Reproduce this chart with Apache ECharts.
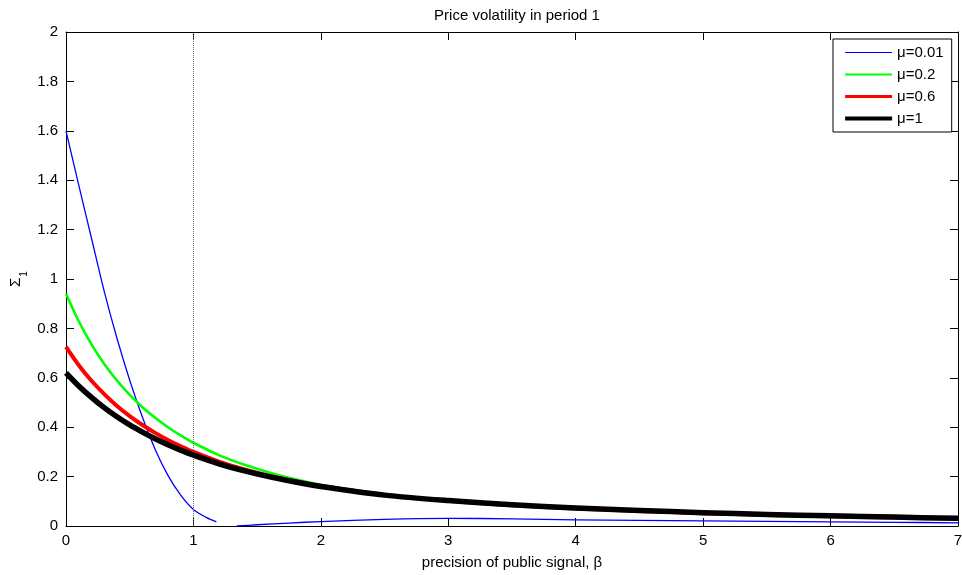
<!DOCTYPE html>
<html>
<head>
<meta charset="utf-8">
<script src="https://cdn.jsdelivr.net/npm/echarts@6/dist/echarts.min.js"></script>
<style>
html,body{margin:0;padding:0;background:#fff;}
#chart{width:962px;height:575px;}
</style>
</head>
<body>
<div id="chart"></div>
<script>
// ---- data ----
const titleText = 'Price volatility in period 1';
const xAxisName = 'precision of public signal, β';
const seriesNames = ['μ=0.01', 'μ=0.2', 'μ=0.6', 'μ=1'];
const seriesColors = ['#0000ff', '#00ff00', '#ff0000', '#000000'];

const betaGrid = [0, 0.1, 0.2, 0.3, 0.4, 0.5, 0.6, 0.7, 0.8, 0.9, 1, 1.2, 1.4, 1.6, 1.8, 2, 2.5, 3, 3.5, 4, 4.5, 5, 5.5, 6, 6.5, 7];
const sigmaMu02 = [0.94, 0.829, 0.735, 0.656, 0.589, 0.531, 0.481, 0.438, 0.400, 0.367, 0.337, 0.287, 0.248, 0.216, 0.189, 0.167, 0.127, 0.102, 0.085, 0.072, 0.062, 0.053, 0.046, 0.040, 0.035, 0.030];
const sigmaMu06 = [0.725, 0.651, 0.588, 0.534, 0.486, 0.445, 0.409, 0.377, 0.348, 0.323, 0.300, 0.261, 0.229, 0.203, 0.181, 0.162, 0.126, 0.102, 0.084, 0.071, 0.061, 0.052, 0.045, 0.039, 0.034, 0.030];
const sigmaMu1  = [0.62, 0.567, 0.521, 0.479, 0.442, 0.409, 0.380, 0.353, 0.329, 0.307, 0.287, 0.252, 0.223, 0.199, 0.178, 0.160, 0.125, 0.103, 0.086, 0.073, 0.063, 0.054, 0.047, 0.041, 0.036, 0.031];

const betaBlue = [0, 0.1, 0.2, 0.3, 0.4, 0.5, 0.6, 0.7, 0.8, 0.9, 1, 1.1, 1.18, 1.26, 1.34, 1.5, 1.75, 2, 2.5, 3, 3.5, 4, 4.5, 5, 5.5, 6, 6.5, 7];
const sigmaMu001 = [1.6, 1.38, 1.165, 0.95, 0.76, 0.59, 0.44, 0.31, 0.205, 0.125, 0.067, 0.035, 0.017, null, 0, 0.005, 0.012, 0.018, 0.027, 0.031, 0.029, 0.025, 0.023, 0.021, 0.019, 0.017, 0.015, 0.013];

const legendWidths = [1.2, 2.2, 3.2, 4.2];
const plotWidths = [1.3, 2.6, 4, 5.5];
const markerBeta = 1;

// ---- chart ----
const pair = (xs, ys) => xs.map((x, i) => [x, ys[i] === null ? NaN : ys[i]]);
const seriesData = [
  pair(betaBlue, sigmaMu001),
  pair(betaGrid, sigmaMu02),
  pair(betaGrid, sigmaMu06),
  pair(betaGrid, sigmaMu1)
];

const fontFamily = '"Liberation Sans", Arial, Helvetica, sans-serif';
const axisCommon = {
  min: 0,
  axisLine: {show: true, onZero: false, lineStyle: {color: '#000', width: 1}},
  axisTick: {show: true, inside: true, length: 8, lineStyle: {color: '#000', width: 1}},
  splitLine: {show: false}
};

const chart = echarts.init(document.getElementById('chart'), null, {renderer: 'canvas'});
chart.setOption({
  animation: false,
  backgroundColor: '#fff',
  textStyle: {fontFamily: fontFamily},
  title: {
    text: titleText,
    left: 512,
    top: 3,
    textAlign: 'center',
    textStyle: {fontSize: 15, fontWeight: 'normal', color: '#000', fontFamily: fontFamily}
  },
  grid: {left: 66, right: 4, top: 32, bottom: 49, outerBoundsMode: 'none', containLabel: false},
  legend: {
    orient: 'vertical',
    left: 833,
    top: 39,
    padding: [6, 8, 6, 10],
    itemWidth: 47,
    itemHeight: 14,
    itemGap: 7,
    backgroundColor: '#fff',
    borderColor: '#000',
    borderWidth: 1,
    borderRadius: 0,
    itemStyle: {opacity: 0, borderWidth: 0},
    textStyle: {fontSize: 15, color: '#000', fontFamily: fontFamily},
    data: seriesNames.map((n, i) => ({
      name: n,
      itemStyle: {opacity: 0, borderWidth: 0},
      lineStyle: {width: legendWidths[i], color: seriesColors[i], opacity: 1}
    }))
  },
  xAxis: [
    Object.assign({}, axisCommon, {
      type: 'value', max: 7, interval: 1, position: 'bottom',
      name: xAxisName, nameLocation: 'middle', nameGap: 29, nameMoveOverlap: false,
      nameTextStyle: {fontSize: 15, color: '#000', fontFamily: fontFamily},
      axisLabel: {color: '#000', fontSize: 15, margin: 7, fontFamily: fontFamily}
    }),
    Object.assign({}, axisCommon, {
      type: 'value', max: 7, interval: 1, position: 'top',
      axisLabel: {show: false}
    })
  ],
  yAxis: [
    Object.assign({}, axisCommon, {
      type: 'value', max: 2, interval: 0.2, position: 'left',
      name: '{s|Σ}{sub|1}', nameLocation: 'middle', nameGap: 40, nameRotate: 90, nameMoveOverlap: false,
      nameTextStyle: {
        color: '#000', fontFamily: fontFamily,
        rich: {
          s: {fontSize: 15, color: '#000', lineHeight: 20, verticalAlign: 'middle'},
          sub: {fontSize: 10, color: '#000', lineHeight: 20, verticalAlign: 'bottom', padding: [0, 0, -3, 1]}
        }
      },
      axisLabel: {color: '#000', fontSize: 15, margin: 8, fontFamily: fontFamily}
    }),
    Object.assign({}, axisCommon, {
      type: 'value', max: 2, interval: 0.2, position: 'right',
      axisLabel: {show: false}
    })
  ],
  series: seriesNames.map((n, i) => {
    const s = {
      name: n,
      type: 'line',
      xAxisIndex: 0,
      yAxisIndex: 0,
      data: seriesData[i],
      symbol: 'none',
      showSymbol: false,
      smooth: 0.3,
      connectNulls: false,
      clip: true,
      lineStyle: {color: seriesColors[i], width: plotWidths[i], cap: 'butt', join: 'round'},
      itemStyle: {color: seriesColors[i]},
      z: 2 + i
    };
    if (i === 0) {
      s.markLine = {
        silent: true,
        symbol: ['none', 'none'],
        label: {show: false},
        lineStyle: {type: 'dotted', color: '#666', width: 1},
        data: [{xAxis: markerBeta}],
        animation: false
      };
    }
    return s;
  })
});
</script>
</body>
</html>
